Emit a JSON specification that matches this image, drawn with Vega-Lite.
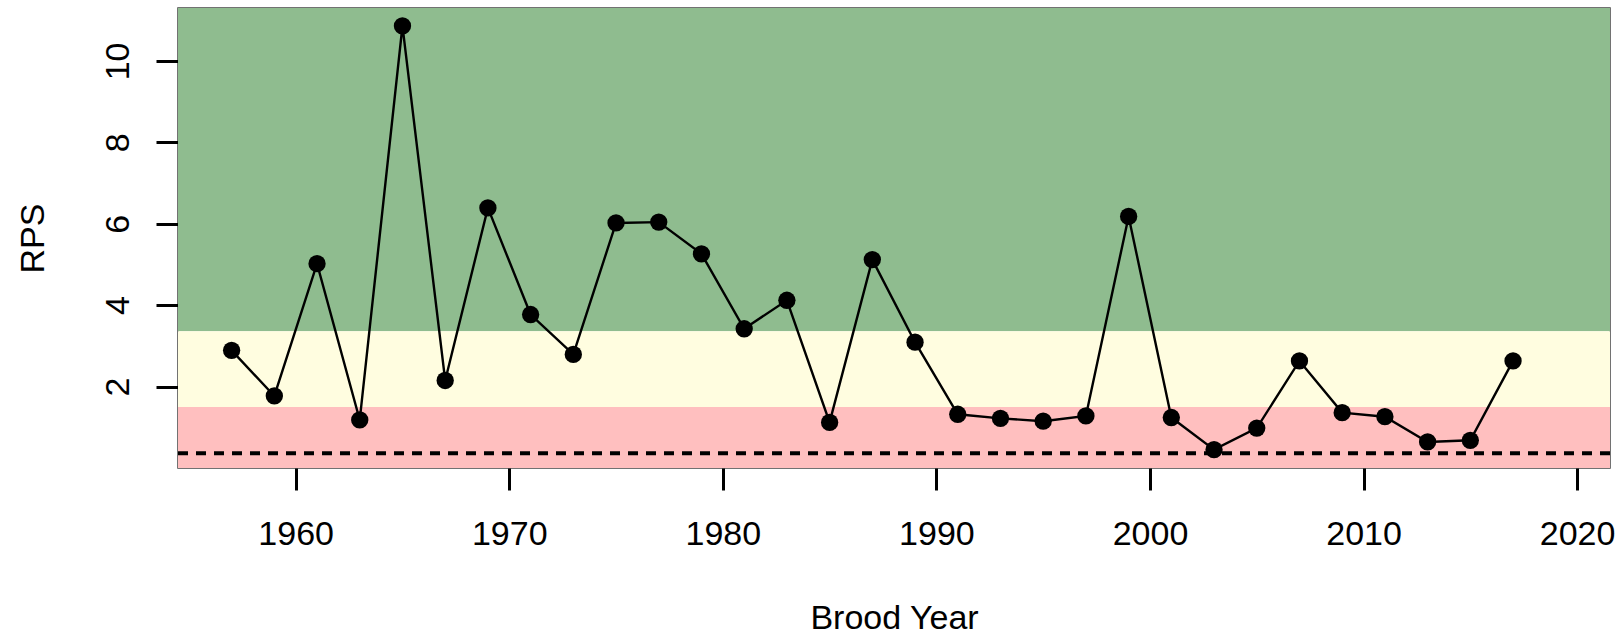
{
  "$schema": "https://vega.github.io/schema/vega-lite/v6.json",
  "width": 1432,
  "height": 460,
  "autosize": {"type": "none"},
  "padding": {"left": 178, "top": 8, "right": 14, "bottom": 166},
  "background": "white",
  "datasets": {
    "zones": [
      {"zone": "green", "lo": 3.36, "hi": 11.3},
      {"zone": "yellow", "lo": 1.5, "hi": 3.36},
      {"zone": "red", "lo": 0, "hi": 1.5}
    ],
    "limit": [{"ref": 0.365}],
    "rps": [
      {"year": 1957, "rps": 2.89},
      {"year": 1959, "rps": 1.77},
      {"year": 1961, "rps": 5.02},
      {"year": 1963, "rps": 1.18},
      {"year": 1965, "rps": 10.86},
      {"year": 1967, "rps": 2.15},
      {"year": 1969, "rps": 6.39},
      {"year": 1971, "rps": 3.77},
      {"year": 1973, "rps": 2.79},
      {"year": 1975, "rps": 6.02},
      {"year": 1977, "rps": 6.04},
      {"year": 1979, "rps": 5.26},
      {"year": 1981, "rps": 3.42},
      {"year": 1983, "rps": 4.12},
      {"year": 1985, "rps": 1.12},
      {"year": 1987, "rps": 5.12},
      {"year": 1989, "rps": 3.09},
      {"year": 1991, "rps": 1.32},
      {"year": 1993, "rps": 1.22},
      {"year": 1995, "rps": 1.15},
      {"year": 1997, "rps": 1.28},
      {"year": 1999, "rps": 6.18},
      {"year": 2001, "rps": 1.24},
      {"year": 2003, "rps": 0.45},
      {"year": 2005, "rps": 0.98},
      {"year": 2007, "rps": 2.63},
      {"year": 2009, "rps": 1.36},
      {"year": 2011, "rps": 1.26},
      {"year": 2013, "rps": 0.64},
      {"year": 2015, "rps": 0.68},
      {"year": 2017, "rps": 2.63}
    ]
  },
  "layer": [
    {
      "data": {"name": "zones"},
      "mark": {"type": "rect"},
      "encoding": {
        "y": {
          "field": "lo", "type": "quantitative",
          "scale": {"domain": [0, 11.3], "nice": false, "zero": false},
          "axis": {
            "title": "RPS",
            "values": [2, 4, 6, 8, 10],
            "domain": false, "grid": false,
            "tickSize": 22, "tickWidth": 3, "tickColor": "black",
            "labelFont": "Liberation Sans", "labelFontSize": 34, "labelColor": "black",
            "labelAngle": 270, "labelAlign": "center", "labelBaseline": "alphabetic",
            "labelPadding": 28, "labelFlush": false, "labelOverlap": false,
            "titleFont": "Liberation Sans", "titleFontSize": 34, "titleFontWeight": "normal", "titleColor": "black",
            "titleAngle": 270, "titleBaseline": "alphabetic", "titleX": -135, "titleY": 230, "titleAlign": "center"
          }
        },
        "y2": {"field": "hi"},
        "color": {
          "field": "zone", "type": "nominal", "legend": null,
          "scale": {"domain": ["green", "yellow", "red"], "range": ["#8FBC8F", "#FFFDE0", "#FFBFBF"]}
        }
      }
    },
    {
      "data": {"name": "limit"},
      "mark": {"type": "rule", "color": "black", "strokeWidth": 4, "strokeDash": [10, 8]},
      "encoding": {
        "y": {"field": "ref", "type": "quantitative", "title": "RPS"}
      }
    },
    {
      "data": {"name": "rps"},
      "mark": {"type": "line", "color": "black", "strokeWidth": 2.4},
      "encoding": {
        "x": {
          "field": "year", "type": "quantitative",
          "scale": {"domain": [1954.49, 2021.54], "nice": false, "zero": false},
          "axis": {
            "title": "Brood Year",
            "values": [1960, 1970, 1980, 1990, 2000, 2010, 2020],
            "format": "d",
            "domain": false, "grid": false,
            "tickSize": 22, "tickWidth": 3, "tickColor": "black",
            "labelFont": "Liberation Sans", "labelFontSize": 34, "labelColor": "black",
            "labelPadding": 27, "labelFlush": false, "labelOverlap": false,
            "titleFont": "Liberation Sans", "titleFontSize": 34, "titleFontWeight": "normal", "titleColor": "black",
            "titleBaseline": "alphabetic", "titleY": 160
          }
        },
        "y": {"field": "rps", "type": "quantitative", "title": "RPS"}
      }
    },
    {
      "data": {"name": "rps"},
      "mark": {"type": "point", "filled": true, "shape": "circle", "color": "black", "size": 300, "opacity": 1},
      "encoding": {
        "x": {"field": "year", "type": "quantitative", "title": "Brood Year"},
        "y": {"field": "rps", "type": "quantitative", "title": "RPS"}
      }
    }
  ],
  "config": {
    "view": {"stroke": "#444444", "strokeWidth": 1.5}
  }
}
